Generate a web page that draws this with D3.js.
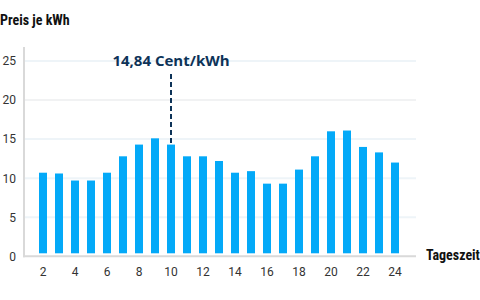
<!DOCTYPE html>
<html>
<head>
<meta charset="utf-8">
<script src="https://cdn.jsdelivr.net/npm/d3@7"></script>
<style>
  body { margin: 0; background: #fff; }
  svg { display: block; }
  .tick text { font-family: Roboto, "Noto Sans", sans-serif; font-size: 12px; fill: #333; }
  .cond { font-family: "Roboto Condensed", "Liberation Sans Narrow", "DejaVu Sans", sans-serif; font-stretch: condensed; font-weight: bold; fill: #111; }
</style>
</head>
<body>
<svg id="chart" width="480" height="300"></svg>
<script>
// hours shown on the x axis and price per hour (Cent/kWh)
var hours = d3.range(2, 25);
var prices = [10.7, 10.6, 9.7, 9.7, 10.7, 12.8, 14.3, 15.1, 14.3, 12.8, 12.8, 12.2,
              10.7, 10.9, 9.3, 9.3, 11.1, 12.8, 16.0, 16.1, 14.0, 13.3, 12.0];
var yTicks = [0, 5, 10, 15, 20, 25];
var xTicks = [2, 4, 6, 8, 10, 12, 14, 16, 18, 20, 22, 24];
var markHour = 10;
var markLabel = "14,84 Cent/kWh";

var data = hours.map(function(h, i) { return { hour: h, price: prices[i] }; });

var svg = d3.select("#chart");

var margins = { top: 61, bottom: 44, left: 24, right: 64 };
var width = 480, height = 300;

var xScale = d3.scaleBand()
    .domain(hours)
    .range([35, 403])
    .paddingInner(0.5)
    .paddingOuter(0.25);

var yScale = d3.scaleLinear()
    .domain([0, 25])
    .range([height - margins.bottom + 0.3, margins.top]);

// gridlines
svg.append("g").selectAll("line")
    .data(yTicks.slice(1))
    .enter().append("line")
    .attr("x1", margins.left)
    .attr("x2", width - margins.right)
    .attr("y1", function(d) { return yScale(d); })
    .attr("y2", function(d) { return yScale(d); })
    .attr("stroke", function(d) { return d == 20 ? "#f1f2f3" : "#eef4f8"; })
    .attr("stroke-width", 2);

// bars
svg.append("g").selectAll("rect")
    .data(data)
    .enter().append("rect")
    .attr("x", function(d) { return xScale(d.hour); })
    .attr("width", xScale.bandwidth())
    .attr("y", function(d) { return yScale(d.price); })
    .attr("height", function(d) { return yScale(0) - 3 - yScale(d.price); })
    .attr("fill", "#03a9f8");

// axes
var yAxis = svg.append("g")
    .attr("transform", "translate(16,0)")
    .call(d3.axisLeft(yScale).tickValues(yTicks).tickSize(0).tickPadding(0));
yAxis.select(".domain").remove();

var xAxis = svg.append("g")
    .attr("transform", "translate(0," + (yScale(0) + 5) + ")")
    .call(d3.axisBottom(xScale).tickValues(xTicks).tickSize(0).tickPadding(6));
xAxis.select(".domain").remove();

svg.append("line")
    .attr("x1", margins.left).attr("x2", margins.left)
    .attr("y1", 47).attr("y2", yScale(0) + 1)
    .attr("stroke", "#d9d9d9").attr("stroke-width", 2);
svg.append("line")
    .attr("x1", margins.left - 1).attr("x2", width - margins.right)
    .attr("y1", yScale(0)).attr("y2", yScale(0))
    .attr("stroke", "#d9d9d9").attr("stroke-width", 2);

// annotation
var markX = xScale(markHour) + xScale.bandwidth() / 2;
svg.append("line")
    .attr("x1", markX).attr("x2", markX)
    .attr("y1", 74)
    .attr("y2", yScale(prices[hours.indexOf(markHour)]))
    .attr("stroke", "#0d3358")
    .attr("stroke-width", 2)
    .attr("stroke-dasharray", "5,3");
svg.append("text")
    .attr("x", markX)
    .attr("y", 66)
    .attr("text-anchor", "middle")
    .style("font-family", "'Open Sans', Roboto, sans-serif")
    .style("font-weight", "bold")
    .style("font-size", "15px")
    .style("fill", "#0d3358")
    .text(markLabel);

// titles
svg.append("text").attr("class", "cond")
    .attr("x", 0).attr("y", 25)
    .style("font-size", "14px")
    .text("Preis je kWh");
svg.append("text").attr("class", "cond")
    .attr("x", 426).attr("y", 260)
    .style("font-size", "14px")
    .text("Tageszeit");
</script>
</body>
</html>
